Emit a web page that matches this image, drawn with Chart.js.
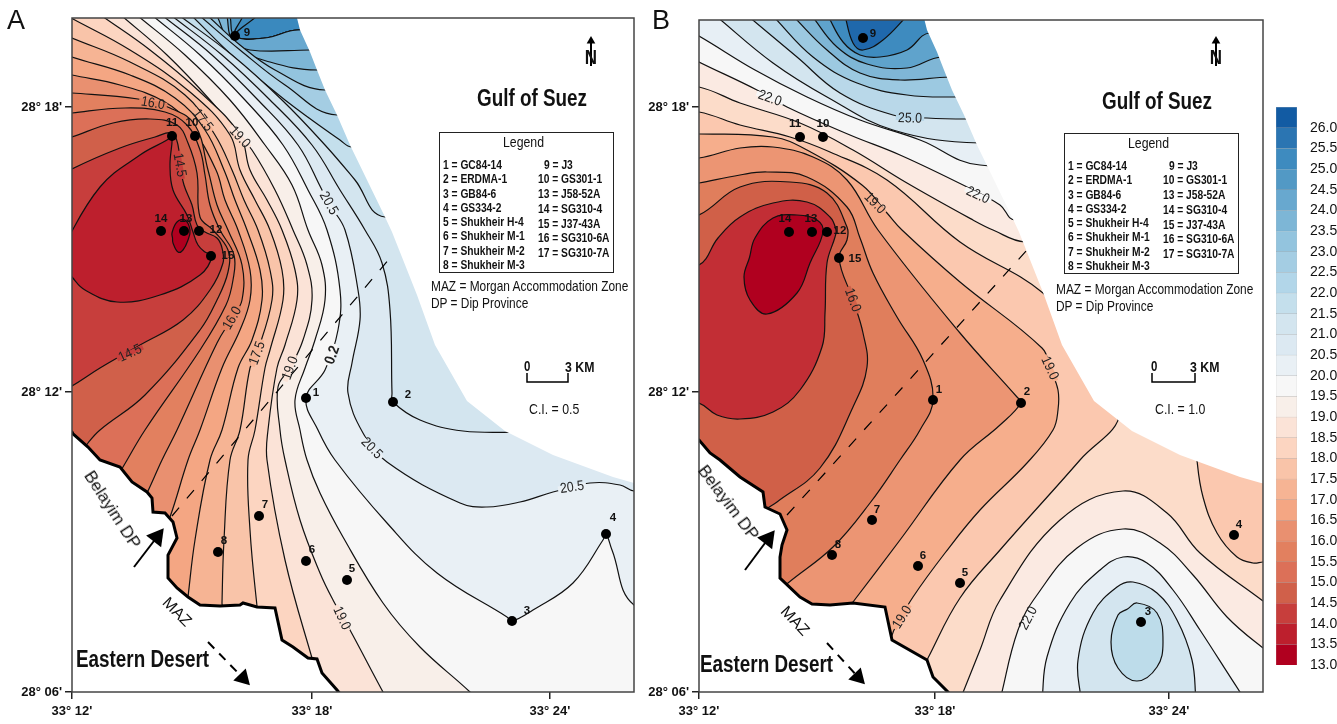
<!DOCTYPE html>
<html>
<head>
<meta charset="utf-8">
<title>Contour maps A and B</title>
<script src="https://cdn.jsdelivr.net/npm/chart.js@4/dist/chart.umd.js"></script>
<style>
  html, body { margin: 0; background: #fff; }
  #page { position: relative; width: 1337px; height: 724px; overflow: hidden; }
  canvas { position: absolute; top: 0; }
  .txt { position: absolute; white-space: nowrap; color: #111; font-family: "Liberation Sans", sans-serif; transform: translateY(-50%); }
  .narrow { transform: translateY(-50%) scaleX(0.82); transform-origin: left center; }
  .box { position: absolute; border: 1px solid #222; }
</style>
</head>
<body>
<div id="page">
  <canvas id="mapA" width="640" height="724" style="left:0"></canvas>
  <canvas id="mapB" width="630" height="724" style="left:640px"></canvas>
  <canvas id="bar" width="67" height="724" style="left:1270px"></canvas>
</div>
<script>
// All map values are minutes past 33 deg E (x) and minutes past 28 deg N (y)
const lonTicksA = [12, 18, 23.95];
const lonTicksB = [12, 17.9, 23.75];
const lonTickLabels = ["33° 12'", "33° 18'", "33° 24'"];
const latTicks = [6, 12, 17.7];
const latTickLabels = ["28° 06'", "28° 12'", "28° 18'"];

// Colour scale, bottom to top
const scaleLevels = [13, 13.5, 14, 14.5, 15, 15.5, 16, 16.5, 17, 17.5, 18, 18.5, 19, 19.5, 20, 20.5, 21, 21.5, 22, 22.5, 23, 23.5, 24, 24.5, 25, 25.5, 26];
const scaleColors = ['#b0001f', '#bd1f2d', '#c73e3c', '#d0604a', '#dc7058', '#e2805f', '#e99070', '#f4a683', '#f6b494', '#f9c4a9', '#fcd5c1', '#fbe3d7', '#f8efe9', '#f7f7f7', '#e9f0f5', '#dce9f2', '#d3e5ef', '#c4dfec', '#b2d6e9', '#a4cde3', '#93c4de', '#7db6d6', '#68a8cf', '#5299c5', '#3e8bbf', '#2b75b2', '#125ba3'];

const wellsA = [[17.85, 11.88], [20.025, 11.8], [23, 7.42], [25.35, 9.16], [18.875, 8.24], [17.85, 8.62], [16.675, 9.52], [15.65, 8.8], [16.075, 19.12], [15.075, 17.12], [14.5, 17.12], [15.175, 15.22], [14.8, 15.22], [14.225, 15.22], [15.475, 14.72]];
const wellsB = [[17.85, 11.84], [20.05, 11.78], [23.05, 7.4], [25.375, 9.14], [18.525, 8.18], [17.475, 8.52], [16.325, 9.44], [15.325, 8.74], [16.1, 19.08], [15.1, 17.1], [14.525, 17.1], [15.2, 15.2], [14.825, 15.2], [14.25, 15.2], [15.5, 14.68]];

const seaEdge = [[17.575, 19.64], [17.7, 19.24], [17.95, 18.8], [18.125, 18.44], [18.325, 18.04], [18.625, 17.54], [18.95, 16.94], [19.825, 15.5], [20, 15.2], [20.625, 13.94], [21.075, 12.94], [21.875, 11.82], [22.825, 11.22], [24.025, 10.74], [25.525, 10.3], [26.05, 10.18], [27.7, 9.98], [27.7, 20]];
const coastA = [[11.7, 11.2], [12, 11.2], [12.025, 11.16], [12.4, 10.9], [12.7, 10.64], [13.2, 10.5], [13.5, 10.2], [13.875, 10], [14, 9.88], [14.025, 9.6], [14.325, 9.58], [14.525, 9.4], [14.625, 9.08], [14.4, 8.74], [14.4, 8.28], [14.625, 8.08], [14.9, 7.9], [15.2, 7.74], [15.7, 7.72], [16.2, 7.74], [16.275, 7.78], [16.625, 7.7], [17.075, 7.68], [17.25, 7.04], [17.525, 6.9], [17.9, 6.68], [18.125, 6.66], [18.25, 6.38], [18.625, 6.04], [18.825, 5.84], [11.7, 5.84]];
const coastB = [[11.025, 11.34], [12, 11.04], [12.275, 10.78], [12.525, 10.64], [13.025, 10.3], [13.6, 10], [13.65, 9.7], [14.025, 9.56], [14.2, 9.24], [14.075, 8.94], [14.025, 8.7], [14.025, 8.28], [14.525, 7.9], [14.825, 7.76], [15.275, 7.74], [15.85, 7.78], [16.65, 7.7], [16.825, 7.04], [17.7, 6.64], [17.85, 6.3], [18.225, 6], [18.4, 5.84], [11.025, 5.84]];

// Corners well outside the frame, used to close the filled contour regions
const SW = [8, 4], NW = [8, 22], SE = [29, 4], NE = [29, 22];
const coverAll = [[8, 4], [29, 4], [29, 22], [8, 22]];

// Panel A contours (C.I. 0.5)
const a135 = [[14.5, 15.18], [14.625, 15.4], [14.825, 15.44], [14.95, 15.24], [14.9, 15.04], [14.775, 14.84], [14.65, 14.8], [14.525, 14.98]];
const a140 = [[11.7, 14.8], [12.7, 16.1], [13.7, 16.74], [14.375, 17.04], [14.5, 17.12], [14.45, 16.54], [14.525, 16.04], [14.875, 15.54], [15.025, 15.2], [15.15, 14.94], [15.325, 14.8], [15.5, 14.72], [15.2, 14.34], [14.2, 13.94], [13.125, 13.8], [12.325, 14.04], [12, 14.3], [11.7, 14.6]];
const a145 = [[11.7, 16.28], [12, 16.46], [13.2, 16.88], [14.075, 17.1], [14.5, 17.18], [14.65, 16.94], [14.7, 16.54], [14.8, 16.14], [15, 15.74], [15.125, 15.34], [15.325, 15.2], [15.625, 15.08], [15.75, 14.88], [15.775, 14.58], [15.45, 14.04], [14.775, 13.44], [13.7, 12.94], [12.7, 12.48], [12, 12.12], [11.7, 12]];
const a150 = [[11.7, 17.02], [12, 17.1], [13.025, 17.38], [13.95, 17.46], [14.625, 17.34], [14.9, 16.98], [15.125, 16.38], [15.2, 15.5], [15.525, 15.24], [15.9, 14.84], [15.9, 14.4], [15.625, 13.84], [15.2, 13.24], [13.825, 11.94], [12.7, 11.24], [12.4, 10.98], [12.2, 10.74]];
const a155 = [[11.7, 17.54], [12, 17.58], [13.325, 17.68], [14.325, 17.6], [14.875, 17.34], [15.2, 16.84], [15.325, 16.34], [15.45, 15.74], [15.7, 15.24], [16.05, 14.74], [16.025, 14.24], [15.85, 13.74], [15.2, 12.84], [13.825, 11.24], [13.275, 10.5], [13.075, 10.24]];
const a160 = [[11.7, 17.98], [12, 17.98], [13.65, 17.86], [14.45, 17.68], [15.075, 17.34], [15.4, 16.44], [15.625, 15.74], [15.9, 15.24], [16.25, 14.54], [16.25, 13.84], [16, 13.48], [15.625, 12.98], [14.625, 11.24], [14.25, 10.64], [13.875, 9.98], [13.7, 9.74]];
const a165 = [[11.7, 18.4], [12, 18.34], [13.2, 18.14], [14.325, 17.8], [14.95, 17.34], [15.6, 16.44], [15.825, 15.84], [16.15, 15.24], [16.45, 14.44], [16.45, 13.84], [16.2, 13.24], [15.75, 12.48], [15.2, 11.24], [14.9, 10.64], [14.45, 9.5], [14.275, 9.24]];
const a170 = [[11.7, 18.8], [12, 18.7], [13.45, 18.34], [14.575, 17.88], [15.325, 17.24], [15.8, 16.44], [16.075, 15.84], [16.375, 15.24], [16.7, 14.44], [16.75, 13.84], [16.5, 13.04], [16.15, 12.48], [15.75, 11.24], [15.45, 10.64], [15.075, 9.04], [14.9, 7.9], [14.85, 7.54]];
const a175 = [[11.7, 19.18], [12, 19.08], [13.45, 18.6], [14.825, 17.94], [15.575, 17.14], [16, 16.44], [16.3, 15.84], [16.65, 15.24], [16.95, 14.44], [17, 13.84], [16.625, 12.78], [16.45, 12.48], [16.2, 11.24], [15.95, 10.64], [15.8, 9.04], [15.75, 7.78], [15.75, 7.44]];
const a180 = [[11.7, 19.6], [12.025, 19.46], [13.45, 18.84], [14.95, 18], [15.95, 17.14], [16.2, 16.44], [16.575, 15.84], [16.95, 15.24], [17.25, 14.44], [17.275, 13.84], [16.95, 12.84], [16.825, 12.48], [16.575, 11.24], [16.4, 10.64], [16.45, 9.24], [16.625, 7.72], [16.7, 7.34]];
const a185 = [[12.75, 19.52], [13.95, 18.84], [15.2, 18], [16.2, 17.14], [16.45, 16.44], [16.875, 15.84], [17.25, 15.24], [17.575, 14.44], [17.625, 13.84], [17.325, 12.94], [17.125, 12.48], [16.9, 11.24], [16.875, 10.64], [17.325, 8.64], [18, 6.68], [18.15, 6.34]];
const a190 = [[13.25, 19.52], [14.375, 18.74], [15.45, 17.84], [16.2, 17.1], [16.5, 16.84], [17.075, 16.04], [17.525, 15.24], [17.875, 14.54], [18, 13.84], [17.775, 13.04], [17.45, 12.48], [17.15, 12.1], [17.2, 11.24], [17.325, 10.64], [17.7, 9.44], [18.2, 8.38], [18.525, 7.84], [18.95, 7.24], [19.775, 6], [19.9, 5.84]];
const a195 = [[13.65, 19.52], [14.825, 18.74], [15.95, 17.84], [16.825, 16.94], [17.5, 16.14], [17.9, 15.24], [18.25, 14.54], [18.325, 13.84], [18.075, 13.04], [17.825, 12.48], [17.575, 11.84], [17.7, 11.24], [17.875, 10.64], [18.2, 9.98], [18.775, 9.1], [19.775, 7.78], [20.7, 6.9], [21.95, 6], [22.1, 5.84]];
const a200 = [[14.025, 19.52], [15.2, 18.74], [16.325, 17.84], [17.275, 16.94], [17.9, 16.04], [18.375, 15.24], [18.7, 14.04], [18.65, 13.24], [18.325, 12.44], [17.85, 11.88], [18.15, 11.24], [18.575, 10.64], [19.875, 9.38], [21.125, 8.38], [22.875, 7.5], [23, 7.42], [23.525, 7.64], [24.525, 8.18], [25.275, 9.04], [25.35, 9.16], [25.5, 8.84], [26.05, 7.74], [27.7, 7.44]];
const a205 = [[14.275, 19.52], [15.5, 18.74], [16.65, 17.84], [17.65, 16.94], [18.25, 16.04], [18.45, 15.74], [18.825, 15.24], [19.15, 14.04], [19.2, 13.44], [19, 12.58], [18.9, 11.98], [19.275, 11.18], [19.875, 10.6], [21.7, 9.78], [22.375, 9.7], [23.2, 9.8], [24.025, 10], [24.95, 10.18], [25.7, 10.14], [26.05, 10.02], [27.7, 9.94]];
const a210 = [[14.5, 19.52], [15.75, 18.74], [16.95, 17.84], [18, 16.94], [18.7, 16.04], [19.325, 15.24], [19.75, 14.58], [19.95, 13.64], [20, 11.98], [20.025, 11.8], [20.7, 11.44], [21.775, 11.22], [23.325, 11.2], [27.7, 11.2]];
const a215 = [[14.7, 19.52], [16, 18.74], [17.25, 17.84], [18.325, 16.94], [19.075, 16.24], [19.825, 15.5], [27.7, 15.34]];
const a220 = [[15, 19.52], [16.075, 18.68], [17.325, 17.84], [18.7, 17.04], [19, 16.9], [27.7, 16.84]];
const a225 = [[15.2, 19.52], [16.2, 18.84], [17.325, 18.14], [18.625, 17.54], [27.7, 17.48]];
const a230 = [[15.4, 19.52], [16.2, 18.94], [17.075, 18.44], [18.325, 18.04], [27.7, 18]];
const a235 = [[15.625, 19.52], [16, 18.94], [16.95, 18.6], [18.125, 18.44], [27.7, 18.4]];
const a240 = [[15.875, 19.52], [16, 19.04], [16.45, 18.84], [17.95, 18.84], [27.7, 18.84]];
const a245 = [[15.95, 19.52], [16.075, 19.12], [16.825, 19.08], [17.65, 19.24], [27.7, 19.34]];
const a250 = [[16.275, 19.52], [16.075, 19.12], [16.825, 19.08], [17.65, 19.24], [27.7, 19.34]];
const a255 = [[16.625, 19.52], [16.075, 19.12], [16.825, 19.08], [17.65, 19.24], [27.7, 19.34]];

// Panel B contours (C.I. 1.0)
const b14 = [[13.4, 15.08], [13.85, 15.48], [14.45, 15.54], [14.95, 15.44], [15.1, 15.2], [14.775, 14.58], [14.45, 13.98], [13.7, 13.56], [13.275, 13.84], [13.125, 14.3]];
const b15 = [[11.025, 14.44], [12, 14.54], [12.475, 15.08], [13.025, 15.5], [13.85, 15.78], [14.7, 15.8], [15.275, 15.5], [15.425, 15.24], [15.4, 15.1], [15.2, 14.58], [15.15, 13.58], [15.075, 12.9], [14.525, 12.04], [13.85, 11.6], [13.025, 11.46], [12.45, 11.54], [12, 11.78], [11.025, 11.94]];
const b16 = [[11.025, 15.34], [12, 15.54], [13.025, 16.1], [14.275, 16.2], [15.2, 15.98], [15.7, 15.3], [15.7, 15.04], [15.5, 14.68], [15.85, 13.84], [16.1, 13.18], [16.2, 12.5], [15.85, 11.7], [15.025, 10.48], [13.95, 9.8], [13.65, 9.64], [13.4, 9.44]];
const b17 = [[11.025, 16.04], [12, 16.18], [13.025, 16.34], [13.7, 16.4], [14.7, 16.3], [15.7, 15.7], [16.025, 15.08], [16.35, 14.38], [16.95, 13.5], [17.6, 12.64], [17.85, 11.84], [17.525, 11.24], [17.025, 10.64], [16.275, 9.78], [15.35, 8.9], [14.225, 8.18], [13.9, 7.94]];
const b18 = [[11.025, 16.64], [12, 16.68], [13.025, 16.88], [13.85, 16.9], [14.85, 16.7], [15.7, 16.24], [16.475, 15.24], [18.525, 13.18], [19.95, 11.9], [20.05, 11.78], [19.525, 11.34], [18.525, 10.64], [17.025, 9.04], [15.85, 7.8], [15.65, 7.6]];
const b19 = [[11.025, 17.14], [12, 17.16], [13.85, 17.1], [14.7, 16.84], [16.075, 16.14], [16.7, 15.58], [17.075, 15.24], [18.525, 14.2], [20.575, 12.88], [20.775, 12.48], [20.975, 12.04], [20.975, 11.64], [20.85, 11.24], [20.2, 10.58], [19.025, 9.64], [18.15, 8.78], [17.35, 7.9], [16.9, 7.28], [16.65, 6.94]];
const b20 = [[11.025, 17.64], [12, 17.6], [13.025, 17.34], [14.275, 17.1], [15.275, 16.8], [16.7, 16.24], [18.525, 15], [20.6, 13.98], [21.775, 12.84], [22.525, 11.6], [21.525, 10.64], [19.525, 8.84], [18.525, 7.88], [17.725, 6.68], [17.525, 6.34]];
const b20Lobe = [[24.425, 11.24], [24.45, 10.64], [24.6, 9.9], [24.95, 9.18], [25.45, 8.7], [25.85, 8.58], [26.1, 8.6], [27.025, 8.64], [27.025, 11.24]];
const b21 = [[11.025, 18.14], [12, 18.1], [13.025, 17.78], [14.525, 17.38], [15.85, 16.84], [17.2, 16.18], [18.85, 15.44], [19.35, 15.24], [20.15, 15], [27.025, 14.84]];
const b22 = [[11.025, 19], [12, 18.6], [13.45, 18.04], [14.2, 17.7], [15.775, 17.14], [17.025, 16.74], [18.7, 16.1], [19.525, 15.74], [19.9, 15.44], [27.025, 15.34]];
const b23 = [[11.025, 19.54], [12, 19.12], [13.4, 18.44], [14.7, 17.9], [16.025, 17.44], [17.525, 17.04], [19.025, 16.54], [27.025, 16.44]];
const b24 = [[12.425, 19.52], [13.85, 18.58], [15.2, 17.9], [16.85, 17.24], [19.025, 16.98], [27.025, 16.94]];
const b25 = [[13.225, 19.52], [14.45, 18.7], [15.525, 17.98], [16.85, 17.54], [17.7, 17.48], [18.725, 17.46], [27.025, 17.44]];
const b26 = [[13.85, 19.52], [14.85, 18.7], [15.95, 18.18], [17.2, 17.94], [18.475, 17.9], [27.025, 17.88]];
const b27 = [[14.35, 19.52], [15.2, 18.84], [16.025, 18.38], [17.025, 18.24], [18.275, 18.3], [27.025, 18.34]];
const b28 = [[14.825, 19.52], [15.45, 18.9], [16.2, 18.56], [17.2, 18.48], [18.075, 18.7], [27.025, 18.74]];
const b29 = [[15.225, 19.52], [15.6, 19], [16.025, 18.74], [16.525, 18.7], [17.2, 18.84], [17.775, 19.18], [27.025, 19.44]];
const b30 = [[15.65, 19.52], [15.85, 18.98], [16.1, 18.84], [16.6, 19.04], [17.2, 19.52]];
const b21Hill = [[18.525, 5.84], [19.025, 6.84], [19.525, 7.84], [21.025, 9.44], [22.6, 10.02], [23.7, 9.58], [24.525, 8.78], [26.1, 7.82], [27.025, 7.24], [27.025, 5.84]];
const b22Hill = [[19.525, 5.84], [19.975, 7.24], [20.45, 7.94], [21.45, 8.88], [22.6, 9.26], [23.525, 8.98], [24.35, 8.34], [25.2, 7.5], [26.1, 6.88], [27.025, 6.34], [27.025, 5.84]];
const b23Hill = [[20.575, 5.84], [20.7, 6.7], [21.275, 7.78], [22.025, 8.44], [22.6, 8.7], [23.2, 8.58], [23.85, 8.04], [24.525, 7.24], [25.525, 6], [25.675, 5.84]];
const b24Hill = [[21.55, 5.84], [21.475, 6.64], [21.85, 7.58], [22.45, 8.1], [22.85, 8.2], [23.45, 7.98], [23.95, 7.44], [24.325, 6.64], [24.425, 5.84]];
const b25Hill = [[22.95, 7.78], [23.45, 7.58], [23.6, 7], [23.45, 6.5], [22.95, 6.22], [22.475, 6.48], [22.3, 7], [22.475, 7.54]];

// [text, lon, lat, contour level]
const contourLabelsA = [['16.0', 14.025, 17.78, 16], ['17.5', 15.275, 17.44, 17.5], ['19.0', 16.2, 17.1, 19], ['14.5', 14.7, 16.54, 14.5], ['20.5', 18.425, 15.78, 20.5], ['14.5', 13.45, 12.78, 14.5], ['16.0', 16, 13.48, 16], ['17.5', 16.625, 12.78, 17.5], ['19.0', 17.45, 12.48, 19], ['0.2', 18.5, 12.74, 20], ['20.5', 19.5, 10.88, 20.5], ['20.5', 24.5, 10.1, 20.5], ['19.0', 18.75, 7.48, 19]];
const contourLabelsB = [['22.0', 13.775, 17.88, 22], ['25.0', 17.275, 17.48, 25], ['22.0', 18.975, 15.94, 22], ['19.0', 16.4, 15.78, 19], ['16.0', 15.85, 13.84, 16], ['19.0', 20.775, 12.48, 19], ['19.0', 17.075, 7.5, 19], ['22.0', 20.225, 7.48, 22]];
const contourAnglesA = [10, 52, 47, 80, 60, -25, -60, -70, -70, -70, 45, -8, 65];
const contourAnglesB = [20, 2, 25, 45, 70, 65, -58, -62];

const faultA = [[14.5, 9.52], [19.95, 14.68]];
const faultB = [[14.2, 9.54], [20.2, 14.84]];
const dipArrowA = [[13.55, 8.5], [14.125, 9.1]];
const dipArrowB = [[13.15, 8.44], [13.725, 9.06]];
const mazArrowA = [[15.4, 7], [16.275, 6.28]];
const mazArrowB = [[15.2, 6.98], [15.975, 6.3]];
const northArrowA = [[24.975, 18.52], [24.975, 19.02]];
const northArrowB = [[24.925, 18.52], [24.925, 19.02]];
const scaleBarA = [[23.375, 12.38], [23.375, 12.2], [24.4, 12.2], [24.4, 12.38]];
const scaleBarB = [[23.325, 12.38], [23.325, 12.2], [24.4, 12.2], [24.4, 12.38]];

const legendLeft = ['1 = GC84-14', '2 = ERDMA-1', '3 = GB84-6', '4 = GS334-2', '5 = Shukheir H-4', '6 = Shukheir M-1', '7 = Shukheir M-2', '8 = Shukheir M-3'];
const legendRight = ['9 = J3', '10 = GS301-1', '13 = J58-52A', '14 = SG310-4', '15 = J37-43A', '16 = SG310-6A', '17 = SG310-7A'];

// offsets of the well numbers from their points, in pixels
const wellLabelOffsetA = [[10, -5], [15, -7], [15, -10], [7, -16], [5, -11], [6, -11], [6, -11], [6, -11], [12, -3], [-3, -13], [0, -13], [17, -1], [2, -12], [0, -12], [17, 0]];
const wellLabelOffsetB = [[6, -10], [6, -11], [7, -10], [5, -10], [5, -10], [5, -10], [5, -10], [6, -10], [10, -4], [0, -13], [-5, -13], [13, -1], [-1, -13], [-4, -13], [16, 1]];

const bandsB = { 14: '#b0001f', 15: '#c22e35', 16: '#d06048', 17: '#e07e5c', 18: '#ec9573', 19: '#f6ae8c', 20: '#fbc8af', 21: '#fbeae2', 22: '#f7f7f7', 23: '#e7eff5', 24: '#d3e5ef', 25: '#b9d8e9', 26: '#9cc9e1', 27: '#7fb6d6', 28: '#5fa3cc', 29: '#3e8bbf', 30: '#1f68ac' };
const baseB = '#fcdcc9';

function bandBelowA(level) {
  return scaleColors[(level - 13.5) * 2];
}

// Starts and ends a closed contour halfway along its last side, so the seam doesn't show
function loop(points) {
  const first = points[0];
  const last = points[points.length - 1];
  const seam = [(first[0] + last[0]) / 2, (first[1] + last[1]) / 2];
  return [seam].concat(points, [seam]);
}

function fillSet(points, color, stroke) {
  return {
    data: points,
    showLine: true,
    fill: 'shape',
    backgroundColor: color,
    borderColor: stroke ? '#111' : 'transparent',
    borderWidth: stroke ? 1.2 : 0,
    tension: 0.4,
    capBezierPoints: false,
    pointRadius: 0
  };
}

function maskSet(points, width) {
  return {
    data: points,
    showLine: true,
    fill: 'shape',
    backgroundColor: '#fff',
    borderColor: width ? '#000' : 'transparent',
    borderWidth: width,
    tension: 0,
    pointRadius: 0
  };
}

function guideSet(points, extra) {
  return Object.assign({
    data: points,
    showLine: true,
    fill: false,
    borderColor: '#000',
    borderWidth: 1.2,
    tension: 0,
    pointRadius: 0,
    pointBackgroundColor: '#000',
    pointBorderWidth: 0
  }, extra);
}

function arrowSet(points, angle, size, dash) {
  return guideSet(points, {
    borderWidth: 2,
    borderDash: dash || [],
    pointStyle: 'triangle',
    pointRadius: [0, size],
    pointRotation: angle
  });
}

function wellSet(points) {
  return { data: points, showLine: false, pointRadius: 5, pointBackgroundColor: '#000', pointBorderWidth: 0 };
}

// Draws the frame, the well numbers and the labels sitting on the contours
const mapText = {
  id: 'mapText',
  afterDatasetsDraw(chart, args, opts) {
    const { ctx, chartArea } = chart;
    const xs = chart.scales.x;
    const ys = chart.scales.y;
    ctx.save();
    ctx.strokeStyle = '#444';
    ctx.lineWidth = 1.5;
    ctx.strokeRect(chartArea.left, chartArea.top, chartArea.width, chartArea.height);

    ctx.fillStyle = '#111';
    ctx.font = 'bold 11.5px "Liberation Sans", sans-serif';
    ctx.textAlign = 'center';
    ctx.textBaseline = 'middle';
    opts.wells.forEach((well, i) => {
      const offset = opts.wellOffsets[i];
      ctx.fillText(String(i + 1), xs.getPixelForValue(well[0]) + offset[0], ys.getPixelForValue(well[1]) + offset[1]);
    });

    opts.labels.forEach((label, i) => {
      ctx.save();
      ctx.translate(xs.getPixelForValue(label[1]), ys.getPixelForValue(label[2]));
      ctx.rotate(opts.angles[i] * Math.PI / 180);
      ctx.scale(0.88, 1);
      const bold = label[0] === '0.2';
      ctx.font = (bold ? 'bold 15px ' : '14px ') + '"Liberation Sans", sans-serif';
      const width = ctx.measureText(label[0]).width + 5;
      ctx.fillStyle = opts.patch(label[3]);
      ctx.fillRect(-width / 2, -2.5, width, 5);
      ctx.fillStyle = '#222';
      ctx.fillText(label[0], 0, 0.5);
      ctx.restore();
    });
    ctx.restore();
  }
};

function mapOptions(cfg) {
  return {
    responsive: false,
    animation: false,
    events: [],
    devicePixelRatio: 1,
    // autoPadding would reserve room for the arrow heads and shrink the frame
    layout: { autoPadding: false, padding: { top: cfg.top, right: cfg.right, left: 0, bottom: 0 } },
    plugins: {
      legend: { display: false },
      tooltip: { enabled: false },
      mapText: { wells: cfg.wells, wellOffsets: cfg.wellOffsets, labels: cfg.labels, angles: cfg.angles, patch: cfg.patch }
    },
    scales: {
      x: {
        type: 'linear',
        min: 12,
        max: cfg.xMax,
        afterFit: scale => {
          scale.height = 32;
          scale.paddingLeft = 0;
          scale.paddingRight = 0;
        },
        afterBuildTicks: scale => { scale.ticks = cfg.lonTicks.map(v => ({ value: v })); },
        border: { display: false },
        grid: { drawOnChartArea: false, tickLength: 7, color: '#222', lineWidth: 1.5 },
        ticks: {
          autoSkip: false, maxRotation: 0, padding: 5, color: '#111',
          font: { family: '"Liberation Sans"', size: 13, weight: 'bold' },
          callback: (v, i) => lonTickLabels[i]
        }
      },
      y: {
        type: 'linear',
        min: 6,
        max: cfg.yMax,
        afterFit: scale => {
          scale.width = cfg.yWidth;
          scale.paddingTop = 0;
          scale.paddingBottom = 0;
        },
        afterBuildTicks: scale => { scale.ticks = latTicks.map(v => ({ value: v })); },
        border: { display: false },
        grid: { drawOnChartArea: false, tickLength: 7, color: '#222', lineWidth: 1.5 },
        ticks: {
          autoSkip: false, padding: 3, color: '#111',
          font: { family: '"Liberation Sans"', size: 13, weight: 'bold' },
          callback: (v, i) => latTickLabels[i]
        }
      }
    }
  };
}

function paintOrder(sets) {
  // first dataset at the bottom, last one on top
  sets.forEach((set, i) => { set.order = -i; });
  return sets;
}

const setsA = paintOrder([
  fillSet(coverAll, '#3a89be', false),
  fillSet(a255.concat([SE, SW, NW]), bandBelowA(25.5), true),
  fillSet(a250.concat([SE, SW, NW]), bandBelowA(25), true),
  fillSet(a245.concat([SE, SW, NW]), bandBelowA(24.5), true),
  fillSet(a240.concat([SE, SW, NW]), bandBelowA(24), true),
  fillSet(a235.concat([SE, SW, NW]), bandBelowA(23.5), true),
  fillSet(a230.concat([SE, SW, NW]), bandBelowA(23), true),
  fillSet(a225.concat([SE, SW, NW]), bandBelowA(22.5), true),
  fillSet(a220.concat([SE, SW, NW]), bandBelowA(22), true),
  fillSet(a215.concat([SE, SW, NW]), bandBelowA(21.5), true),
  fillSet(a210.concat([SE, SW, NW]), bandBelowA(21), true),
  fillSet(a205.concat([SE, SW, NW]), bandBelowA(20.5), true),
  fillSet(a200.concat([SE, SW, NW]), bandBelowA(20), true),
  fillSet(a195.concat([SW, NW]), bandBelowA(19.5), true),
  fillSet(a190.concat([SW, NW]), bandBelowA(19), true),
  fillSet(a185.concat([SW, NW]), bandBelowA(18.5), true),
  fillSet(a180.concat([SW]), bandBelowA(18), true),
  fillSet(a175.concat([SW]), bandBelowA(17.5), true),
  fillSet(a170.concat([SW]), bandBelowA(17), true),
  fillSet(a165.concat([SW]), bandBelowA(16.5), true),
  fillSet(a160.concat([SW]), bandBelowA(16), true),
  fillSet(a155.concat([SW]), bandBelowA(15.5), true),
  fillSet(a150.concat([SW]), bandBelowA(15), true),
  fillSet(a145, bandBelowA(14.5), true),
  fillSet(a140, bandBelowA(14), true),
  fillSet(loop(a135), bandBelowA(13.5), true),
  maskSet(seaEdge, 0),
  maskSet(coastA, 3),
  guideSet(faultA, { borderDash: [11, 12] }),
  arrowSet(dipArrowA, 38, 11),
  arrowSet(mazArrowA, 136, 10, [9, 7]),
  arrowSet(northArrowA, 0, 5),
  guideSet(scaleBarA, { borderWidth: 1.5 }),
  wellSet(wellsA)
]);

const setsB = paintOrder([
  fillSet(coverAll, baseB, false),
  fillSet(b21.concat([NE, NW]), bandsB[21], true),
  fillSet(b21Hill, bandsB[21], true),
  fillSet(b22.concat([NE, NW]), bandsB[22], true),
  fillSet(b22Hill, bandsB[22], true),
  fillSet(b23.concat([NE, NW]), bandsB[23], true),
  fillSet(b23Hill, bandsB[23], true),
  fillSet(b24.concat([NE]), bandsB[24], true),
  fillSet(b24Hill, bandsB[24], true),
  fillSet(b25.concat([NE]), bandsB[25], true),
  fillSet(loop(b25Hill), '#bddcea', true),
  fillSet(b26.concat([NE]), bandsB[26], true),
  fillSet(b27.concat([NE]), bandsB[27], true),
  fillSet(b28.concat([NE]), bandsB[28], true),
  fillSet(b29.concat([NE]), bandsB[29], true),
  fillSet(b30, bandsB[30], true),
  fillSet(b20Lobe, bandsB[20], true),
  fillSet(b20.concat([SW]), bandsB[20], true),
  fillSet(b19.concat([SW]), bandsB[19], true),
  fillSet(b18.concat([SW]), bandsB[18], true),
  fillSet(b17.concat([SW]), bandsB[17], true),
  fillSet(b16.concat([SW]), bandsB[16], true),
  fillSet(b15, bandsB[15], true),
  fillSet(loop(b14), bandsB[14], true),
  maskSet(seaEdge, 0),
  maskSet(coastB, 3),
  guideSet(faultB, { borderDash: [11, 12] }),
  arrowSet(dipArrowB, 38, 11),
  arrowSet(mazArrowB, 136, 10, [9, 7]),
  arrowSet(northArrowB, 0, 5),
  guideSet(scaleBarB, { borderWidth: 1.5 }),
  wellSet(wellsB)
]);

new Chart(document.getElementById('mapA'), {
  type: 'scatter',
  data: { datasets: setsA },
  options: mapOptions({
    top: 18, right: 6, xMax: 26.05, yMax: 19.48, yWidth: 72, lonTicks: lonTicksA,
    wells: wellsA, wellOffsets: wellLabelOffsetA, labels: contourLabelsA, angles: contourAnglesA,
    patch: bandBelowA
  }),
  plugins: [mapText]
});

new Chart(document.getElementById('mapB'), {
  type: 'scatter',
  data: { datasets: setsB },
  options: mapOptions({
    top: 20, right: 7, xMax: 26.1, yMax: 19.44, yWidth: 59, lonTicks: lonTicksB,
    wells: wellsB, wellOffsets: wellLabelOffsetB, labels: contourLabelsB, angles: contourAnglesB,
    patch: level => bandsB[level]
  }),
  plugins: [mapText]
});

// Colour scale: one floating bar per 0.5 step
new Chart(document.getElementById('bar'), {
  type: 'bar',
  data: {
    labels: [''],
    datasets: scaleLevels.map((level, i) => ({
      data: [[level, level + 0.5]],
      backgroundColor: scaleColors[i],
      borderColor: 'rgba(60,60,60,0.35)',
      borderWidth: 0.5,
      barPercentage: 1,
      categoryPercentage: 1
    }))
  },
  options: {
    responsive: false,
    animation: false,
    events: [],
    devicePixelRatio: 1,
    layout: { padding: { top: 107, left: 6, right: 0, bottom: 59 } },
    plugins: { legend: { display: false }, tooltip: { enabled: false } },
    scales: {
      x: { stacked: true, display: false },
      y: {
        position: 'right',
        min: 13,
        max: 26.5,
        afterFit: scale => {
          scale.width = 40;
          scale.paddingTop = 0;
          scale.paddingBottom = 0;
        },
        border: { display: false },
        grid: { display: false },
        ticks: {
          stepSize: 0.5, autoSkip: false, padding: 5, color: '#111',
          font: { family: '"Liberation Sans"', size: 14 },
          callback: v => (v <= 26 ? v.toFixed(1) : '')
        }
      }
    }
  }
});

// Text laid over the maps; panel B is panel A's layout moved right
const page = document.getElementById('page');

function addText(text, left, top, css, cls) {
  const el = document.createElement('div');
  el.className = 'txt ' + (cls || '');
  el.textContent = text;
  el.style.left = left + 'px';
  el.style.top = top + 'px';
  el.style.cssText += css || '';
  page.appendChild(el);
  return el;
}

function addPanelText(dx, dy, ci) {
  const box = document.createElement('div');
  box.className = 'box';
  box.style.cssText = `left:${439 + dx}px;top:${132 + dy}px;width:173px;height:139px;`;
  page.appendChild(box);
  addText('Legend', 503 + dx, 141 + dy, 'font-size:15px;', 'narrow');
  const leftRows = [165, 179, 193.5, 207.5, 222, 236, 251, 265];
  const rightRows = [165, 179, 193.5, 209, 224, 238, 253];
  legendLeft.forEach((t, i) => addText(t, 443 + dx, leftRows[i] + dy, 'font-size:12.5px;font-weight:bold;', 'narrow'));
  legendRight.forEach((t, i) => addText(t, (i === 0 ? 544 : 538) + dx, rightRows[i] + dy, 'font-size:12.5px;font-weight:bold;', 'narrow'));
  addText('Gulf of Suez', 477 + dx, 98 + dy + (dx ? 2 : 0), 'font-size:23px;font-weight:bold;', 'narrow');
  addText('MAZ = Morgan Accommodation Zone', 431 + dx, 286 + dy + 2 * (dx ? 1 : 0), 'font-size:14.5px;', 'narrow');
  addText('DP = Dip Province', 431 + dx, 303 + dy + 2 * (dx ? 1 : 0), 'font-size:14.5px;', 'narrow');
  addText('0', 524 + dx + (dx ? 2 : 0), 366, 'font-size:14px;font-weight:bold;', 'narrow');
  addText('3 KM', 565 + dx, 366, 'font-size:15px;font-weight:bold;', 'narrow');
  addText('C.I. = ' + ci, 529 + dx + (dx ? 1 : 0), 408, 'font-size:15px;', 'narrow');
}

addPanelText(0, 0, '0.5');
addPanelText(625, 1, '1.0');

addText('A', 7, 20, 'font-size:27px;');
addText('B', 652, 20, 'font-size:27px;');
addText('N', 591, 57, 'font-size:20px;font-weight:bold;transform:translate(-50%,-50%) scaleX(0.85);');
addText('N', 1216, 57, 'font-size:20px;font-weight:bold;transform:translate(-50%,-50%) scaleX(0.85);');
addText('Eastern Desert', 76, 659, 'font-size:23px;font-weight:bold;', 'narrow');
addText('Eastern Desert', 700, 664, 'font-size:23px;font-weight:bold;', 'narrow');
addText('Belayim DP', 112, 510, 'font-size:17px;transform:translate(-50%,-50%) rotate(57deg);');
addText('Belayim DP', 728, 503, 'font-size:17px;transform:translate(-50%,-50%) rotate(53deg);');
addText('MAZ', 177, 612, 'font-size:16px;transform:translate(-50%,-50%) rotate(45deg);');
addText('MAZ', 795, 621, 'font-size:16px;transform:translate(-50%,-50%) rotate(47deg);');
</script>
</body>
</html>
